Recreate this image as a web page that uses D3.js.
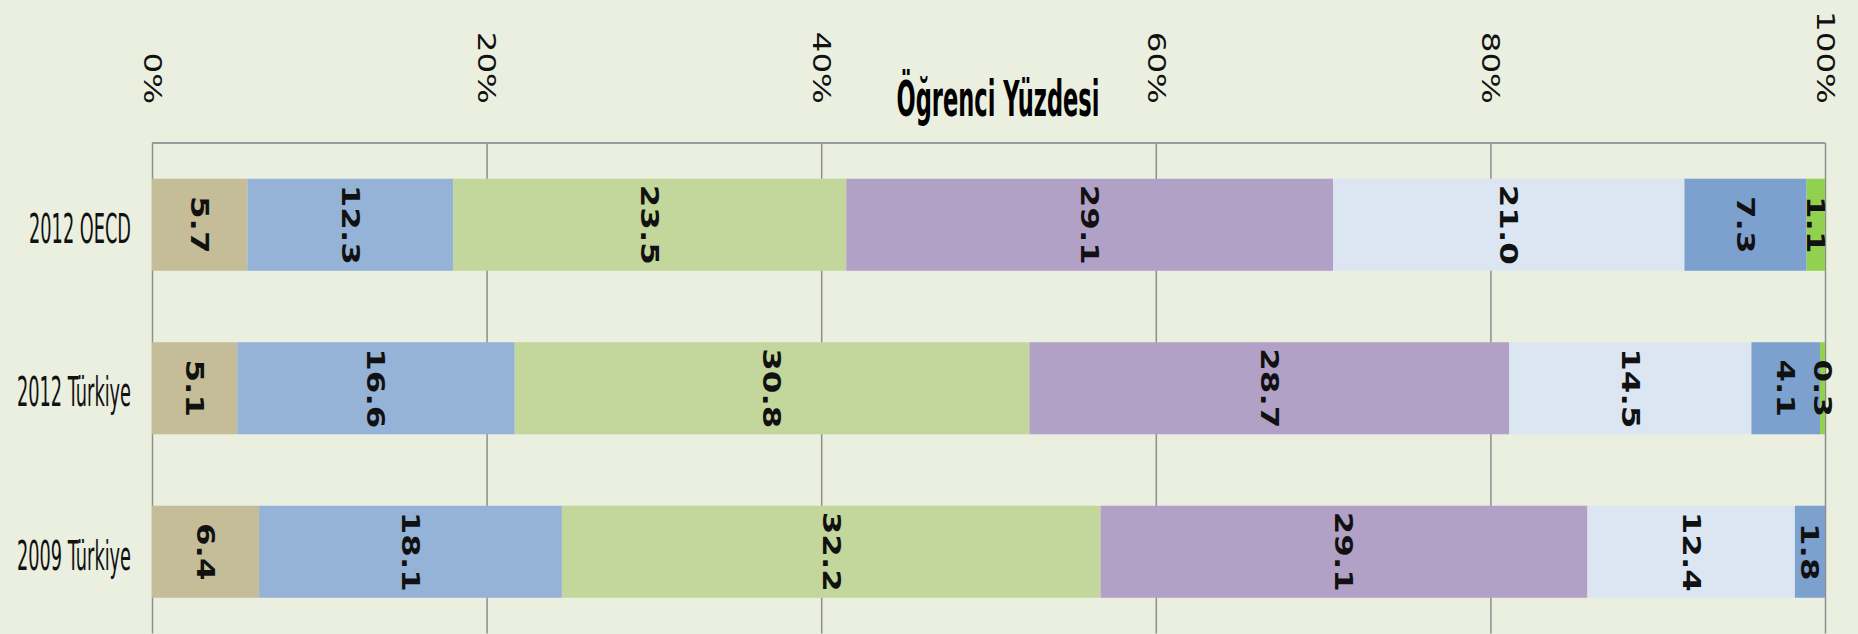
<!DOCTYPE html>
<html>
<head>
<meta charset="utf-8">
<script src="https://cdn.jsdelivr.net/npm/d3@7"></script>
<style>
  body { margin: 0; background: #ebefdf; }
  svg { display: block; }
</style>
</head>
<body>
<svg width="1858" height="634"></svg>
<script>
// PISA yeterlik düzeyleri, öğrenci yüzdesi
const categories = ['2012 OECD', '2012 Türkiye', '2009 Türkiye'];
const levelNames = ['below1', 'level1', 'level2', 'level3', 'level4', 'level5', 'level6'];
const below1 = [5.7, 5.1, 6.4];
const level1 = [12.3, 16.6, 18.1];
const level2 = [23.5, 30.8, 32.2];
const level3 = [29.1, 28.7, 29.1];
const level4 = [21.0, 14.5, 12.4];
const level5 = [7.3, 4.1, 1.8];
const level6 = [1.1, 0.3, 0];
const tickValues = [0, 0.2, 0.4, 0.6, 0.8, 1];
const tickLabels = ['0%', '20%', '40%', '60%', '80%', '100%'];
const title = 'Öğrenci Yüzdesi';

const colors = ['#c4bd97', '#95b3d7', '#c3d69b', '#b2a1c7', '#dce6f2', '#7ca1cf', '#92d050'];

const svg = d3.select('svg');
const width = +svg.attr('width');
const height = +svg.attr('height');

const margin = { top: 143, right: 33, bottom: 0.5, left: 152 };
const innerWidth = width - margin.left - margin.right;
const innerHeight = height - margin.top - margin.bottom;

const seriesValues = [below1, level1, level2, level3, level4, level5, level6];
const table = categories.map((c, i) => {
  const row = { category: c };
  levelNames.forEach((k, j) => { row[k] = seriesValues[j][i]; });
  return row;
});

const stacked = d3.stack()
  .keys(levelNames)
  .offset(d3.stackOffsetExpand)(table);

const xScale = d3.scaleLinear()
  .domain([0, 1])
  .range([0, innerWidth]);

const yScale = d3.scaleBand()
  .domain(categories)
  .range([0, innerHeight])
  .paddingInner(0.437)
  .paddingOuter(0.2185);

const g = svg.append('g')
  .attr('transform', `translate(${margin.left},${margin.top})`);

// gridlines + tick labels
const xAxis = d3.axisTop(xScale)
  .tickValues(tickValues)
  .tickFormat((d, i) => tickLabels[i])
  .tickSize(-innerHeight);

const xAxisG = g.append('g').call(xAxis);
xAxisG.select('.domain').remove();
xAxisG.selectAll('.tick line')
  .attr('stroke', '#8e8e8e')
  .attr('stroke-width', 1.5);
xAxisG.selectAll('.tick text')
  .attr('x', 0)
  .attr('y', 0)
  .attr('dy', null)
  .attr('text-anchor', 'end')
  .attr('dominant-baseline', 'central')
  .attr('transform', 'translate(0,-39) rotate(90) scale(1.3,1)')
  .attr('font-family', 'DejaVu Sans, Verdana, sans-serif')
  .attr('font-size', 25)
  .attr('fill', '#111');

g.append('line')
  .attr('x1', 0)
  .attr('x2', innerWidth)
  .attr('y1', 0)
  .attr('y2', 0)
  .attr('stroke', '#9a9a9a')
  .attr('stroke-width', 2);

// bars
const layers = g.selectAll('.layer').data(stacked)
  .enter().append('g')
    .attr('class', 'layer')
    .attr('fill', (d, i) => colors[i]);

layers.selectAll('rect').data(d => d)
  .enter().append('rect')
    .attr('x', d => xScale(d[0]))
    .attr('y', d => yScale(d.data.category))
    .attr('width', d => xScale(d[1]) - xScale(d[0]))
    .attr('height', yScale.bandwidth());

// value labels
const fmt = d3.format('.1f');
stacked.forEach(layer => {
  g.append('g').selectAll('text')
    .data(layer.filter(d => d.data[layer.key] > 0))
    .enter().append('text')
      .attr('transform', d => {
        const cx = xScale((d[0] + d[1]) / 2);
        const cy = yScale(d.data.category) + yScale.bandwidth() / 2;
        return `translate(${cx},${cy}) rotate(90) scale(1.3,1)`;
      })
      .attr('text-anchor', 'middle')
      .attr('dominant-baseline', 'central')
      .attr('font-family', 'DejaVu Sans, Verdana, sans-serif')
      .attr('font-weight', 'bold')
      .attr('font-size', 25)
      .attr('fill', '#111')
      .text(d => fmt(d.data[layer.key]));
});

// narrow, tall text like the original (squeeze to a target width)
const condensed = 'Liberation Sans Narrow, Arial Narrow, DejaVu Sans Condensed, sans-serif';

const catLabels = g.selectAll('.cat-label').data(categories)
  .enter().append('text')
    .attr('class', 'cat-label')
    .attr('text-anchor', 'end')
    .attr('font-family', condensed)
    .attr('font-size', 41)
    .attr('fill', '#111')
    .text(d => d);

const catSquash = 102 / catLabels.node().getComputedTextLength();
catLabels.attr('transform', d =>
  `translate(-21,${yScale(d) + yScale.bandwidth() / 2 + 18}) scale(${catSquash},1)`);

const titleText = svg.append('text')
  .attr('text-anchor', 'middle')
  .attr('font-family', condensed)
  .attr('font-weight', 'bold')
  .attr('font-size', 50)
  .attr('fill', '#000')
  .text(title);

const titleSquash = 203 / titleText.node().getComputedTextLength();
titleText.attr('transform', `translate(998,116) scale(${titleSquash},1)`);
</script>
</body>
</html>
